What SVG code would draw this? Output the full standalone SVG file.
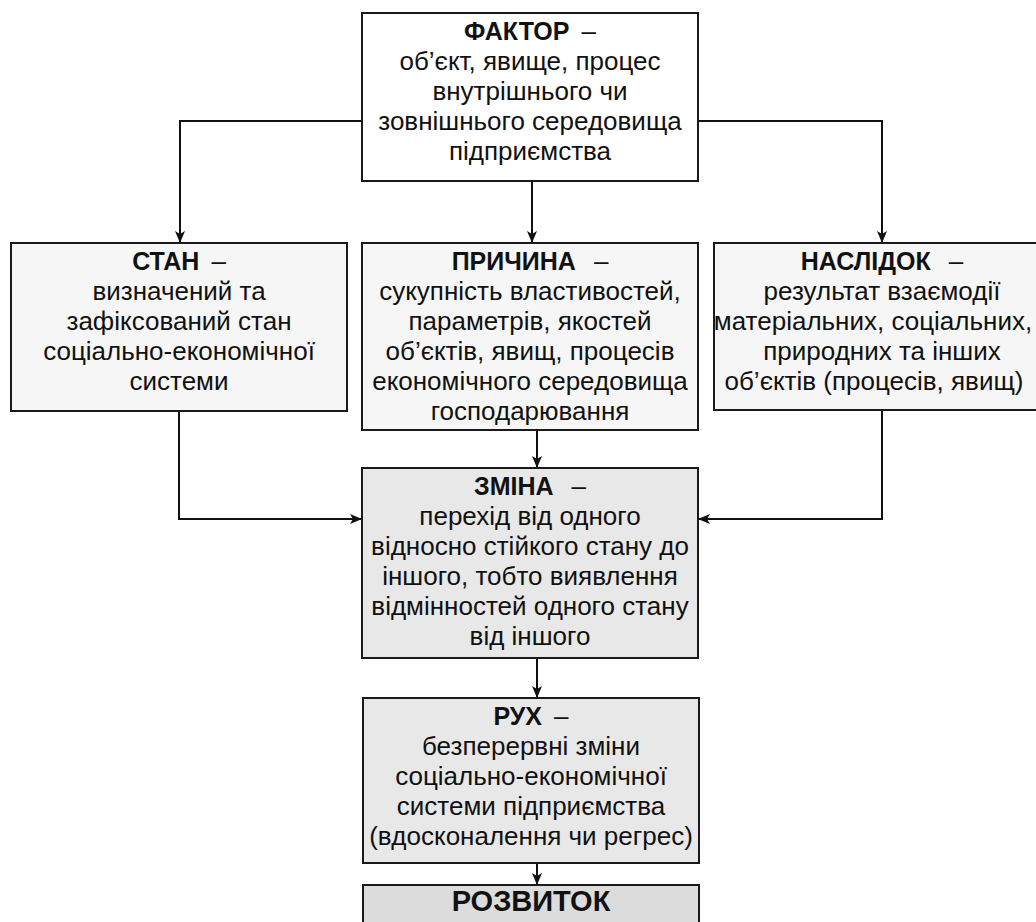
<svg xmlns="http://www.w3.org/2000/svg" width="1036" height="922" viewBox="0 0 1036 922">
<style>
.box{stroke:#1a1a1a;stroke-width:2}
.l0{fill:#ffffff}
.l1{fill:#f6f6f6}
.l2{fill:#e8e8e8}
.l3{fill:#dcdcdc}
text{font-family:"Liberation Sans",Arial,sans-serif;font-size:26px;fill:#111;text-anchor:middle}
.b{font-weight:bold;font-size:25px}
.big{font-size:29px;font-weight:bold}
.conn{fill:none;stroke:#111;stroke-width:2}
</style>
<defs>
<marker id="arr" viewBox="0 0 12 10" refX="12" refY="5" markerWidth="12" markerHeight="10" markerUnits="userSpaceOnUse" orient="auto">
<path d="M0,0 L12,5 L0,10 L3,5 z" fill="#111"/>
</marker>
</defs>
<rect width="1036" height="922" fill="#ffffff"/>
<g id="connectors">
<path class="conn" d="M362,121 H180 V243" marker-end="url(#arr)"/>
<path class="conn" d="M698,121 H882 V243" marker-end="url(#arr)"/>
<path class="conn" d="M532,181 V243" marker-end="url(#arr)"/>
<path class="conn" d="M179,411 V519 H362" marker-end="url(#arr)"/>
<path class="conn" d="M882,410 V519 H698" marker-end="url(#arr)"/>
<path class="conn" d="M537,430 V468" marker-end="url(#arr)"/>
<path class="conn" d="M537,658 V698" marker-end="url(#arr)"/>
<path class="conn" d="M537,863 V885" marker-end="url(#arr)"/>
</g>
<g id="factor">
<rect class="box l0" x="362" y="13" width="336" height="168"/>
<text x="530" y="40"><tspan class="b">ФАКТОР</tspan><tspan dx="12">–</tspan></text>
<text x="530" y="70">об’єкт, явище, процес</text>
<text x="530" y="100">внутрішнього чи</text>
<text x="530" y="130">зовнішнього середовища</text>
<text x="530" y="160">підприємства</text>
</g>
<g id="stan">
<rect class="box l1" x="11" y="243" width="336" height="168"/>
<text x="179" y="270"><tspan class="b">СТАН</tspan><tspan dx="12">–</tspan></text>
<text x="179" y="300">визначений та</text>
<text x="179" y="330">зафіксований стан</text>
<text x="179" y="360">соціально-економічної</text>
<text x="179" y="390">системи</text>
</g>
<g id="prychyna">
<rect class="box l1" x="362" y="243" width="336" height="187"/>
<text x="530" y="270"><tspan class="b">ПРИЧИНА</tspan><tspan dx="18">–</tspan></text>
<text x="530" y="300">сукупність властивостей,</text>
<text x="530" y="330">параметрів, якостей</text>
<text x="530" y="360">об’єктів, явищ, процесів</text>
<text x="530" y="390">економічного середовища</text>
<text x="530" y="420">господарювання</text>
</g>
<g id="naslidok">
<rect class="box l1" x="714" y="243" width="336" height="167"/>
<text x="882" y="270"><tspan class="b">НАСЛІДОК</tspan><tspan dx="18">–</tspan></text>
<text x="882" y="300">результат взаємодії</text>
<text x="873" y="330">матеріальних, соціальних,</text>
<text x="882" y="360">природних та інших</text>
<text x="874" y="390">об’єктів (процесів, явищ)</text>
</g>
<g id="zmina">
<rect class="box l2" x="362" y="468" width="336" height="190"/>
<text x="530" y="495"><tspan class="b">ЗМІНА</tspan><tspan dx="18">–</tspan></text>
<text x="530" y="525">перехід від одного</text>
<text x="530" y="555">відносно стійкого стану до</text>
<text x="530" y="585">іншого, тобто виявлення</text>
<text x="530" y="615">відмінностей одного стану</text>
<text x="530" y="645">від іншого</text>
</g>
<g id="rukh">
<rect class="box l2" x="363" y="698" width="336" height="165"/>
<text x="531" y="725"><tspan class="b">РУХ</tspan><tspan dx="12">–</tspan></text>
<text x="531" y="755">безперервні зміни</text>
<text x="531" y="785">соціально-економічної</text>
<text x="531" y="815">системи підприємства</text>
<text x="531" y="845">(вдосконалення чи регрес)</text>
</g>
<g id="rozvytok">
<rect class="box l3" x="363" y="885" width="336" height="60"/>
<text class="big" x="531" y="911">РОЗВИТОК</text>
</g>
</svg>
